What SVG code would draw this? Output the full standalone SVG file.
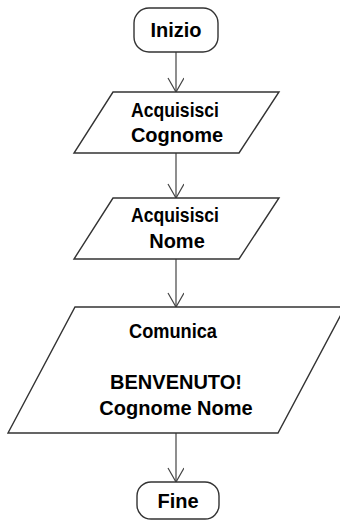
<svg xmlns="http://www.w3.org/2000/svg" width="340" height="521" viewBox="0 0 340 521">
<style>
.shape{fill:#ffffff;stroke:#333333;stroke-width:1.4}
.conn{fill:none;stroke:#444444;stroke-width:1.2}
.lbl{font-family:"Liberation Sans",Arial,sans-serif;font-weight:bold;font-size:20px;fill:#000000;text-anchor:middle}
</style>
<defs>
<marker id="arr" markerWidth="20" markerHeight="20" refX="16" refY="8" orient="auto" markerUnits="userSpaceOnUse">
<path d="M2,0 L16,8 L2,16" fill="none" stroke="#444444" stroke-width="1.2"/>
</marker>
</defs>
<rect width="340" height="521" fill="#ffffff"/>
<g id="connectors">
<line class="conn" x1="176" y1="52" x2="176" y2="92" marker-end="url(#arr)"/>
<line class="conn" x1="176" y1="153" x2="176" y2="198" marker-end="url(#arr)"/>
<line class="conn" x1="176" y1="259" x2="176" y2="307" marker-end="url(#arr)"/>
<line class="conn" x1="176" y1="433" x2="176" y2="482" marker-end="url(#arr)"/>
</g>
<g id="inizio">
<rect class="shape" x="134" y="8" width="84" height="44" rx="15" ry="15"/>
<text class="lbl" x="176" y="37">Inizio</text>
</g>
<g id="acquisisci-cognome">
<polygon class="shape" points="113,92 279,92 239,153 74,153"/>
<text class="lbl" x="175" y="117" textLength="88" lengthAdjust="spacingAndGlyphs">Acquisisci</text>
<text class="lbl" x="177" y="142">Cognome</text>
</g>
<g id="acquisisci-nome">
<polygon class="shape" points="113,198 279,198 239,259 74,259"/>
<text class="lbl" x="175" y="222" textLength="88" lengthAdjust="spacingAndGlyphs">Acquisisci</text>
<text class="lbl" x="177" y="248">Nome</text>
</g>
<g id="comunica">
<polygon class="shape" points="75,307 345,307 278,433 8,433"/>
<text class="lbl" x="173" y="338" textLength="88" lengthAdjust="spacingAndGlyphs">Comunica</text>
<text class="lbl" x="176" y="389">BENVENUTO!</text>
<text class="lbl" x="176" y="415">Cognome Nome</text>
</g>
<g id="fine">
<rect class="shape" x="137" y="482" width="82" height="37" rx="14" ry="14"/>
<text class="lbl" x="178" y="508">Fine</text>
</g>
</svg>
